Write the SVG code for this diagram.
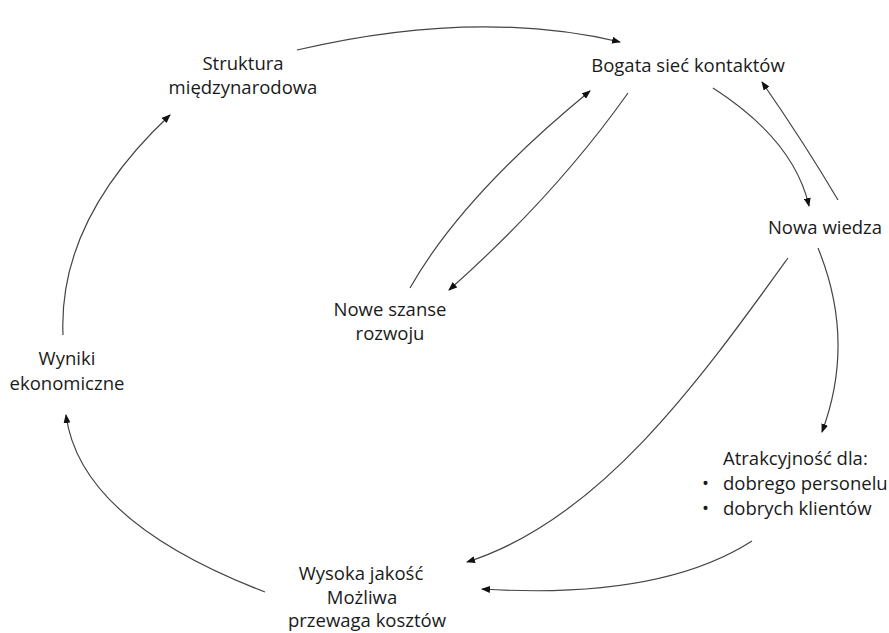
<svg xmlns="http://www.w3.org/2000/svg" width="889" height="633" viewBox="0 0 889 633">
<style>
text{font-family:"Open Sans","Noto Sans",sans-serif;font-size:18.5px;fill:#1a1a1a}
.c{text-anchor:middle}
.e{fill:none;stroke:#444;stroke-width:1.2;marker-end:url(#ah)}
</style>
<defs>
<marker id="ah" markerWidth="9" markerHeight="7" refX="8" refY="3.5" orient="auto" markerUnits="userSpaceOnUse">
<path d="M0,0 L9,3.5 L0,7 Z" fill="#111"/>
</marker>
</defs>
<rect width="889" height="633" fill="#fff"/>
<g id="connectors">
<path class="e" d="M297,50 Q476,8 620,42"/>
<path class="e" d="M410,288 Q462,196 590,91"/>
<path class="e" d="M628,93 Q555,196 449,290"/>
<path class="e" d="M713,88 Q794,140 809,206"/>
<path class="e" d="M838,200 Q805,144 762,82"/>
<path class="e" d="M818,248 Q856,341 822,432"/>
<path class="e" d="M788,258 C700,380 600,520 467,562"/>
<path class="e" d="M752,541 Q660,600 482,589"/>
<path class="e" d="M265,592 Q80,521 66,415"/>
<path class="e" d="M63,335 Q58,220 170,115"/>
</g>
<g id="n_struktura"><text class="c" x="243" y="70">Struktura</text><text class="c" x="243" y="94">międzynarodowa</text></g>
<g id="n_bogata"><text class="c" x="688" y="72">Bogata sieć kontaktów</text></g>
<g id="n_nowa"><text class="c" x="825" y="234">Nowa wiedza</text></g>
<g id="n_szanse"><text class="c" x="390" y="316">Nowe szanse</text><text class="c" x="390" y="340">rozwoju</text></g>
<g id="n_wyniki"><text class="c" x="67" y="365">Wyniki</text><text class="c" x="67" y="390">ekonomiczne</text></g>
<g id="n_atrak"><text x="723" y="465">Atrakcyjność dla:</text><text x="702" y="490">•</text><text x="723" y="490">dobrego personelu</text><text x="702" y="515">•</text><text x="723" y="515">dobrych klientów</text></g>
<g id="n_wysoka"><text class="c" x="361" y="580">Wysoka jakość</text><text class="c" x="362" y="604">Możliwa</text><text class="c" x="367" y="627">przewaga kosztów</text></g>
</svg>
